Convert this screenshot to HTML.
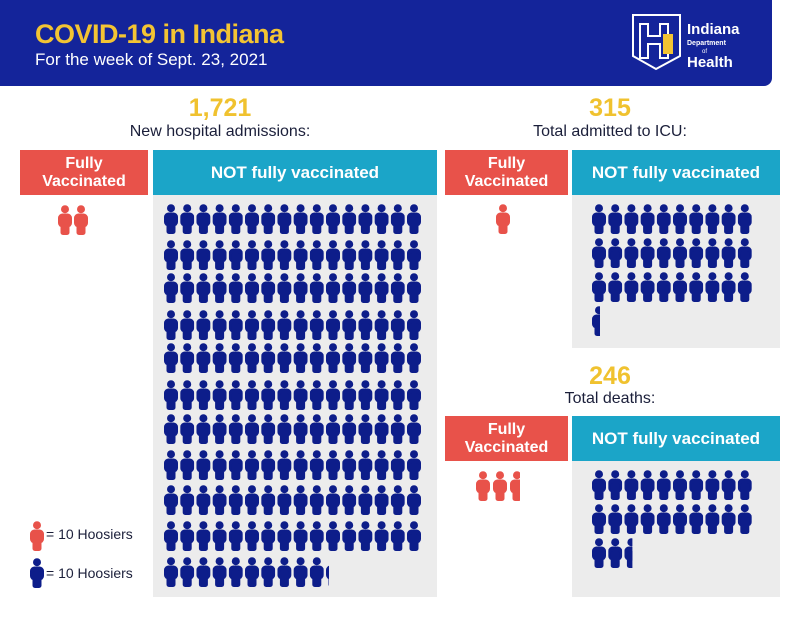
<!DOCTYPE html>
<html><head><meta charset="utf-8"><style>
body{margin:0;width:800px;height:618px;background:#fff;position:relative;overflow:hidden;font-family:"Liberation Sans",sans-serif}
.a{position:absolute}
.hdr{left:0;top:0;width:772px;height:86px;background:#14249a;border-bottom-right-radius:8px}
.t{color:#f3c433;font-weight:bold;font-size:27px;left:35px;top:19px;letter-spacing:-0.5px}
.s{color:#fff;font-size:17px;left:35px;top:50px}
.num{color:#f0c22f;font-weight:bold;font-size:25px;text-align:center}
.lab{color:#1b1f3a;font-size:16px;text-align:center}
.red{background:#e8524a;color:#fff;font-weight:bold;font-size:16px;text-align:center;line-height:18px;display:flex;align-items:center;justify-content:center}
.cy{background:#1ba5c8;color:#fff;font-weight:bold;font-size:17px;display:flex;align-items:center;justify-content:center}
.pan{background:#ececec}
.leg{font-size:14px;color:#1b1f3a}
</style></head><body>
<div class="a hdr"></div>
<div class="a t">COVID-19 in Indiana</div>
<div class="a s">For the week of Sept. 23, 2021</div>
<svg class="a" style="left:630px;top:12px" width="120" height="60">
<path d="M3 3 H50 V44 L26 57 L3 44 Z" fill="none" stroke="#fff" stroke-width="2"/>
<path d="M10 12 H18 V24 H30 V12 H38 V46 H30 V32 H18 V46 H10 Z" fill="none" stroke="#fff" stroke-width="2"/>
<rect x="33" y="22" width="10" height="20" fill="#f3c433"/>
<text x="57" y="22" fill="#fff" font-weight="bold" font-size="15" font-family="Liberation Sans">Indiana</text>
<text x="57" y="33" fill="#fff" font-weight="bold" font-size="7" font-family="Liberation Sans">Department</text>
<text x="72" y="41" fill="#fff" font-size="6" font-family="Liberation Sans">of</text>
<text x="57" y="55" fill="#fff" font-weight="bold" font-size="15" font-family="Liberation Sans">Health</text>
</svg>

<div class="a num" style="left:120px;width:200px;top:94px">1,721</div>
<div class="a lab" style="left:90px;width:260px;top:123px">New hospital admissions:</div>
<div class="a red" style="left:20px;top:150px;width:128px;height:45px">Fully<br>Vaccinated</div>
<div class="a cy" style="left:153px;top:150px;width:284px;height:45px">NOT fully vaccinated</div>
<div class="a pan" style="left:153px;top:195px;width:284px;height:402px"></div>

<div class="a num" style="left:510px;width:200px;top:94px">315</div>
<div class="a lab" style="left:500px;width:220px;top:123px">Total admitted to ICU:</div>
<div class="a red" style="left:445px;top:150px;width:123px;height:45px">Fully<br>Vaccinated</div>
<div class="a cy" style="left:572px;top:150px;width:208px;height:45px">NOT fully vaccinated</div>
<div class="a pan" style="left:572px;top:195px;width:208px;height:153px"></div>

<div class="a num" style="left:510px;width:200px;top:362px">246</div>
<div class="a lab" style="left:500px;width:220px;top:390px">Total deaths:</div>
<div class="a red" style="left:445px;top:416px;width:123px;height:45px">Fully<br>Vaccinated</div>
<div class="a cy" style="left:572px;top:416px;width:208px;height:45px">NOT fully vaccinated</div>
<div class="a pan" style="left:572px;top:461px;width:208px;height:136px"></div>

<div class="a leg" style="left:46px;top:526px">= 10 Hoosiers</div>
<div class="a leg" style="left:46px;top:565px">= 10 Hoosiers</div>

<svg id="sv" class="a" style="left:0;top:0" width="800" height="618">
<defs><symbol id="p" viewBox="0 0 14 30"><circle cx="7" cy="4.2" r="4"/><rect x="0" y="8.5" width="14" height="14" rx="4.5"/><rect x="2.5" y="13" width="9" height="17" rx="2.5"/></symbol></defs>
</svg>
<script>
var sv=document.getElementById('sv'),NS='http://www.w3.org/2000/svg';
function ic(x,y,c,w){var g=document.createElementNS(NS,'svg');g.setAttribute('x',x);g.setAttribute('y',y);g.setAttribute('width',w||14);g.setAttribute('height',30);g.setAttribute('viewBox','0 0 '+(w?w:14)+' 30');g.setAttribute('preserveAspectRatio','xMinYMin');var u=document.createElementNS(NS,'use');u.setAttribute('href','#p');u.setAttribute('width',14);u.setAttribute('height',30);u.setAttribute('fill',c);g.appendChild(u);sv.appendChild(g);}
var B='#0d1d8a',R='#e8524a';
var rows=[204,240,273,310,343,380,414,450,485,521,557];
for(var r=0;r<11;r++){var n=r<10?16:10;for(var c=0;c<n;c++)ic(164+c*16.2,rows[r],B);if(r==10)ic(164+10*16.2,557,B,3);}
ic(58,205,R);ic(74,205,R);
for(var r=0;r<3;r++)for(var c=0;c<10;c++)ic(592+c*16.2,204+r*34,B);
ic(592,306,B,8);
ic(496,204,R);
for(var r=0;r<2;r++)for(var c=0;c<10;c++)ic(592+c*16.2,470+r*34,B);
ic(592,538,B);ic(608.2,538,B);ic(624.4,538,B,8);
ic(476,471,R);ic(493,471,R);ic(510,471,R,10);
ic(30,521,R);ic(30,558,B);
</script>
</body></html>
